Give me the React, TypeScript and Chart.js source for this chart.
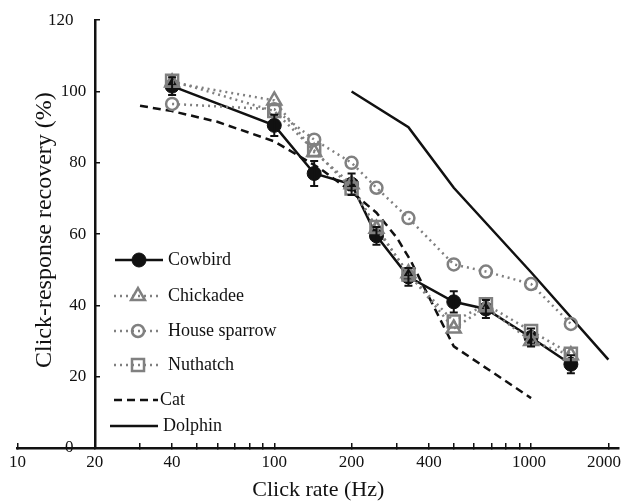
import React, { useEffect, useRef } from 'react';
import { Chart, registerables } from 'chart.js';

Chart.register(...registerables);

// ---- data ----
const birdRates = [40, 100, 143, 200, 250, 333, 500, 667, 1000, 1429];
const cowbird = [101.5, 90.5, 77, 74, 59.5, 48, 41, 39, 31, 23.5];
const cowbirdErr = [2.5, 3, 3.5, 3, 2.5, 2.5, 3, 2.5, 2.5, 2.5];
const chickadee = [102.5, 97.5, 83, 74, 61.5, 49, 33.5, 39.5, 30, 26];
const houseSparrow = [96.5, 95, 86.5, 80, 73, 64.5, 51.5, 49.5, 46, 34.8];
const nuthatch = [103, 94.5, 83.5, 72.8, 62, 48.7, 35.5, 40.3, 32.8, 26.4];
const catRates = [30, 40, 60, 100, 150, 200, 250, 300, 340, 500, 1000];
const cat = [96, 94.5, 91.5, 86, 78.5, 71.8, 66, 59, 52.5, 28.5, 14];
const dolphinRates = [200, 333, 500, 1000, 2000];
const dolphin = [100, 90, 73, 49.3, 24.8];

const xTickMarks = [10, 20, 30, 40, 50, 60, 70, 80, 90, 100, 200, 300, 400, 500, 600, 700, 800, 900, 1000, 2000];
const xTickLabels = [10, 20, 40, 100, 200, 400, 1000, 2000];
const yTickValues = [0, 20, 40, 60, 80, 100, 120];

const FONT = "'Liberation Serif', 'Times New Roman', serif";
const BLACK = '#111111';
const GRAY = '#808080';

const pts = (xs: number[], ys: number[]) => xs.map((x, i) => ({ x, y: ys[i] }));

function drawMarker(ctx: CanvasRenderingContext2D, style: string, x: number, y: number, r: number, fill: string, stroke: string, lw: number) {
  ctx.save();
  ctx.beginPath();
  if (style === 'circle') {
    ctx.arc(x, y, r, 0, Math.PI * 2);
  } else if (style === 'rect') {
    const s = Math.SQRT1_2 * r;
    ctx.rect(x - s, y - s, 2 * s, 2 * s);
  } else if (style === 'triangle') {
    for (let k = 0; k < 3; k++) {
      const a = (k * 2 * Math.PI) / 3;
      const px = x + Math.sin(a) * r;
      const py = y - Math.cos(a) * r;
      if (k === 0) ctx.moveTo(px, py); else ctx.lineTo(px, py);
    }
    ctx.closePath();
  }
  ctx.fillStyle = fill;
  ctx.fill();
  ctx.lineWidth = lw;
  ctx.strokeStyle = stroke;
  ctx.stroke();
  ctx.restore();
}

const errorBarPlugin = {
  id: 'errorBars',
  afterDatasetsDraw(chart: any) {
    const { ctx, scales } = chart;
    ctx.save();
    ctx.strokeStyle = BLACK;
    ctx.lineWidth = 2;
    birdRates.forEach((r, i) => {
      const px = scales.x.getPixelForValue(r);
      const top = scales.y.getPixelForValue(cowbird[i] + cowbirdErr[i]);
      const bot = scales.y.getPixelForValue(cowbird[i] - cowbirdErr[i]);
      ctx.beginPath();
      ctx.moveTo(px, top); ctx.lineTo(px, bot);
      ctx.moveTo(px - 4, top); ctx.lineTo(px + 4, top);
      ctx.moveTo(px - 4, bot); ctx.lineTo(px + 4, bot);
      ctx.stroke();
    });
    ctx.restore();
  },
};

const legendRows = [
  { y: 260, x0: 115, x1: 163, tx: 168 },
  { y: 296, x0: 114, x1: 162, tx: 168 },
  { y: 331, x0: 114, x1: 162, tx: 168 },
  { y: 365, x0: 114, x1: 162, tx: 168 },
  { y: 400, x0: 114, x1: 158, tx: 160 },
  { y: 426, x0: 110, x1: 158, tx: 163 },
];

const legendPlugin = {
  id: 'customLegend',
  afterDraw(chart: any) {
    const { ctx } = chart;
    const ds = chart.data.datasets;
    ctx.save();
    ds.forEach((d: any, i: number) => {
      const row = legendRows[i];
      ctx.beginPath();
      ctx.setLineDash(d.borderDash || []);
      ctx.lineWidth = d.borderWidth;
      ctx.strokeStyle = d.borderColor;
      ctx.moveTo(row.x0, row.y);
      ctx.lineTo(row.x1, row.y);
      ctx.stroke();
      ctx.setLineDash([]);
      if (d.pointRadius > 0) {
        drawMarker(ctx, d.pointStyle, (row.x0 + row.x1) / 2, row.y, d.pointRadius, d.pointBackgroundColor, d.pointBorderColor, d.pointBorderWidth);
      }
      ctx.fillStyle = BLACK;
      ctx.font = `18px ${FONT}`;
      ctx.textAlign = 'left';
      ctx.textBaseline = 'middle';
      ctx.fillText(d.label, row.tx, row.y);
    });
    ctx.restore();
  },
};

const yTitlePlugin = {
  id: 'yTitle',
  afterDraw(chart: any) {
    const { ctx, chartArea } = chart;
    ctx.save();
    ctx.translate(45, (chartArea.top + chartArea.bottom) / 2 - 4);
    ctx.rotate(-Math.PI / 2);
    ctx.fillStyle = BLACK;
    ctx.font = `24px ${FONT}`;
    ctx.textAlign = 'center';
    ctx.textBaseline = 'middle';
    ctx.fillText('Click-response recovery (%)', 0, 0);
    ctx.restore();
  },
};

export default function App() {
  const ref = useRef<HTMLCanvasElement | null>(null);

  useEffect(() => {
    document.body.style.margin = '0';
    const canvas = ref.current;
    if (!canvas) return;
    const dotted = [2, 4];
    const chart = new Chart(canvas, {
      type: 'line',
      data: {
        datasets: [
          {
            label: 'Cowbird', data: pts(birdRates, cowbird), borderColor: BLACK, backgroundColor: BLACK,
            borderWidth: 2.5, pointStyle: 'circle', pointRadius: 7, pointBackgroundColor: BLACK,
            pointBorderColor: BLACK, pointBorderWidth: 1, order: 4,
          },
          {
            label: 'Chickadee', data: pts(birdRates, chickadee), borderColor: GRAY, borderDash: dotted,
            borderWidth: 2.5, pointStyle: 'triangle', pointRadius: 8, pointBackgroundColor: 'rgba(0,0,0,0)',
            pointBorderColor: GRAY, pointBorderWidth: 2.5, order: 2,
          },
          {
            label: 'House sparrow', data: pts(birdRates, houseSparrow), borderColor: GRAY, borderDash: dotted,
            borderWidth: 2.5, pointStyle: 'circle', pointRadius: 6, pointBackgroundColor: 'rgba(0,0,0,0)',
            pointBorderColor: GRAY, pointBorderWidth: 2.5, order: 3,
          },
          {
            label: 'Nuthatch', data: pts(birdRates, nuthatch), borderColor: GRAY, borderDash: dotted,
            borderWidth: 2.5, pointStyle: 'rect', pointRadius: 8.5, pointBackgroundColor: 'rgba(0,0,0,0)',
            pointBorderColor: GRAY, pointBorderWidth: 2.5, order: 1,
          },
          {
            label: 'Cat', data: pts(catRates, cat), borderColor: BLACK, borderDash: [8, 5],
            borderWidth: 2.5, pointRadius: 0, order: 5,
          },
          {
            label: 'Dolphin', data: pts(dolphinRates, dolphin), borderColor: BLACK,
            borderWidth: 2.5, pointRadius: 0, order: 6,
          },
        ],
      },
      options: {
        animation: false,
        responsive: false,
        maintainAspectRatio: false,
        events: [],
        layout: { padding: { left: 17.5, right: 4.6, top: 18, bottom: 0 } },
        plugins: { legend: { display: false }, tooltip: { enabled: false } },
        elements: { line: { tension: 0 } },
        scales: {
          x: {
            type: 'logarithmic',
            position: 'bottom',
            min: 10,
            max: 2200,
            border: { display: true, color: BLACK, width: 2.5 },
            grid: { drawOnChartArea: false, color: BLACK, lineWidth: 1.5, tickLength: -5 },
            afterBuildTicks: (scale: any) => {
              scale.ticks = xTickMarks.map((v) => ({ value: v }));
            },
            afterFit: (scale: any) => {
              scale.height = 55;
              scale.paddingLeft = 0;
              scale.paddingRight = 0;
            },
            ticks: {
              autoSkip: false,
              maxRotation: 0,
              minRotation: 0,
              padding: 9,
              color: BLACK,
              font: { family: FONT, size: 17 },
              callback: (value: any) => {
                const v = Number(value);
                if (!xTickLabels.includes(v)) return '';
                if (v === 1000) return '1000 ';
                if (v === 2000) return '2000  ';
                return String(v);
              },
            },
            title: {
              display: true,
              text: 'Click rate (Hz)',
              color: BLACK,
              font: { family: FONT, size: 22 },
              padding: { top: 0, bottom: 0 },
            },
          },
          y: {
            type: 'linear',
            position: { x: 20 } as any,
            min: 0,
            max: 120,
            border: { display: true, color: BLACK, width: 2.5 },
            grid: { drawOnChartArea: false, color: BLACK, lineWidth: 1.5, tickLength: -6 },
            afterBuildTicks: (scale: any) => {
              scale.ticks = yTickValues.map((v) => ({ value: v }));
            },
            ticks: {
              padding: 10,
              color: BLACK,
              font: { family: FONT, size: 17 },
              callback: (value: any) => {
                const v = Number(value);
                return v === 0 || v === 120 ? `${v}     ` : `${v}  `;
              },
            },
          },
        },
      },
      plugins: [errorBarPlugin, legendPlugin, yTitlePlugin],
    } as any);
    return () => chart.destroy();
  }, []);

  return <canvas ref={ref} width={630} height={503} style={{ display: 'block' }} />;
}
